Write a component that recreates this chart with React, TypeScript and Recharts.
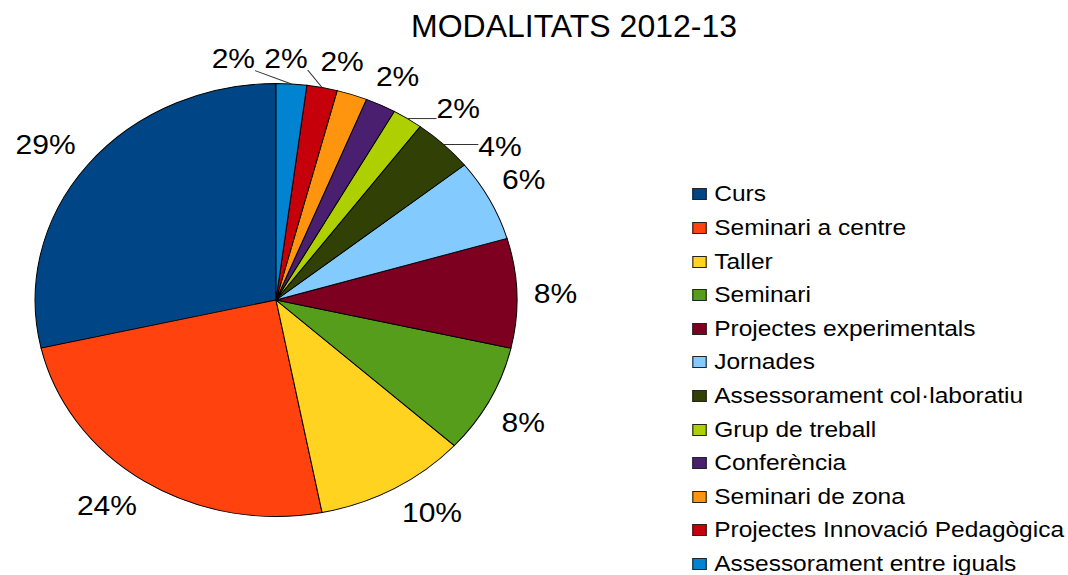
import { PieChart, Pie, Cell, Legend } from "recharts";

const CATEGORIES = [
  "Curs",
  "Seminari a centre",
  "Taller",
  "Seminari",
  "Projectes experimentals",
  "Jornades",
  "Assessorament col·laboratiu",
  "Grup de treball",
  "Conferència",
  "Seminari de zona",
  "Projectes Innovació Pedagògica",
  "Assessorament entre iguals",
];

const COUNTS = [14, 12, 5, 4, 4, 3, 2, 1, 1, 1, 1, 1];

const COLORS = [
  "#004586",
  "#ff420e",
  "#ffd320",
  "#579d1c",
  "#7e0021",
  "#83caff",
  "#314004",
  "#aecf00",
  "#4b1f6f",
  "#ff950e",
  "#c5000b",
  "#0084d1",
];

// angular shift (degrees) of each label so the small ones don't collide
const LABEL_NUDGE: Record<string, number> = {
  Curs: 1.6,
  "Seminari a centre": -3.4,
  Taller: 4,
  Seminari: -1.2,
  "Projectes experimentals": -0.4,
  Jornades: 1,
  "Assessorament col·laboratiu": -8.6,
  "Grup de treball": -7.5,
  Conferència: -0.3,
  "Seminari de zona": 4.4,
  "Projectes Innovació Pedagògica": 8.9,
  "Assessorament entre iguals": 12.7,
};

const data = CATEGORIES.map((name, i) => ({ name, value: COUNTS[i] }));

const FONT = "'Liberation Sans', Arial, sans-serif";
const STRETCH = 1.113;
const RADIAN = Math.PI / 180;

const renderLabel = (props: any) => {
  const { cx, cy, midAngle, outerRadius, percent, name } = props;
  const text = `${Math.round(percent * 100)}%`;
  const nudge = LABEL_NUDGE[name] ?? 0;
  const a = (midAngle + nudge) * RADIAN;
  const halfW = text.length === 3 ? 27 : 19.5;
  const halfH = 10;
  const dist = outerRadius + 15 + halfW * Math.abs(Math.cos(a)) + halfH * Math.abs(Math.sin(a));
  const x = cx + dist * Math.cos(a);
  const y = cy - dist * Math.sin(a);

  let line = null;
  if (Math.abs(nudge) > 6) {
    const ex = cx + outerRadius * Math.cos(midAngle * RADIAN);
    const ey = cy - outerRadius * Math.sin(midAngle * RADIAN);
    const nx = Math.min(Math.max(ex, x - halfW), x + halfW);
    const ny = Math.min(Math.max(ey, y - halfH - 2), y + halfH + 2);
    line = <line x1={ex} y1={ey} x2={nx} y2={ny} stroke="#333" strokeWidth={1} />;
  }

  return (
    <g key={`lbl-${name}`}>
      {line}
      <text
        x={x}
        y={y}
        dy="0.36em"
        textAnchor="middle"
        fontSize={27}
        fontFamily={FONT}
        fill="#000"
      >
        {text}
      </text>
    </g>
  );
};

const renderLegend = (props: any) => {
  const { payload } = props;
  return (
    <div>
      {payload.map((entry: any, i: number) => (
        <div
          key={`leg-${i}`}
          style={{ display: "flex", alignItems: "center", height: 33.6 }}
        >
          <span
            style={{
              display: "inline-block",
              width: 13.5,
              height: 12,
              background: COLORS[CATEGORIES.indexOf(entry.value)] ?? entry.color,
              border: "1px solid #222",
              boxSizing: "border-box",
              marginRight: 6.5,
            }}
          />
          <span style={{ color: "#000", whiteSpace: "nowrap" }}>{entry.value}</span>
        </div>
      ))}
    </div>
  );
};

export default function App() {
  return (
    <div
      style={{
        position: "absolute",
        left: 0,
        top: 0,
        width: 1068,
        height: 575,
        overflow: "hidden",
        background: "#fff",
      }}
    >
      <div
        style={{
          position: "absolute",
          left: 274,
          width: 600,
          top: 10.4,
          textAlign: "center",
          fontFamily: FONT,
          fontSize: 32,
          lineHeight: "32px",
          color: "#000",
        }}
      >
        MODALITATS 2012-13
      </div>
      <div
        style={{
          position: "absolute",
          left: 0,
          top: 0,
          transform: `scaleX(${STRETCH})`,
          transformOrigin: "0 0",
        }}
      >
        <PieChart width={962} height={575} margin={{ top: 0, right: 0, bottom: 0, left: 0 }}>
          <Pie
            data={data}
            dataKey="value"
            nameKey="name"
            cx={248}
            cy={300}
            outerRadius={216.5}
            startAngle={90}
            endAngle={450}
            stroke="#000"
            strokeWidth={0.9}
            label={renderLabel}
            labelLine={false}
            isAnimationActive={false}
          >
            {data.map((d, i) => (
              <Cell key={d.name} fill={COLORS[i]} />
            ))}
          </Pie>
          <Legend
            layout="vertical"
            align="right"
            verticalAlign="top"
            itemSorter={null}
            content={renderLegend}
            wrapperStyle={{
              left: 621.7,
              top: 177.7,
              width: 340,
              fontFamily: FONT,
              fontSize: 22,
              lineHeight: "22px",
            }}
          />
        </PieChart>
      </div>
    </div>
  );
}
